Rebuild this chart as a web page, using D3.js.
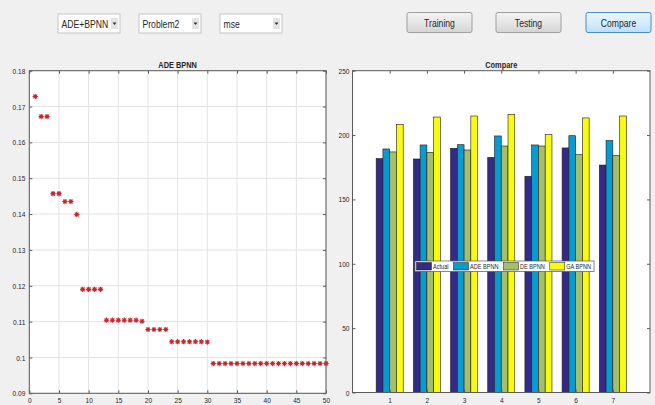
<!DOCTYPE html>
<html>
<head>
<meta charset="utf-8">
<script src="https://cdn.jsdelivr.net/npm/d3@7"></script>
<style>
  html, body { margin: 0; padding: 0; background: #f0f0f0; }
  svg { display: block; }
  text { font-family: "Liberation Sans", Arial, sans-serif; fill: #262626; }
</style>
</head>
<body>
<svg id="fig" width="655" height="405"></svg>
<script>
// ---- data ----
const iterations = d3.range(1, 51);
const bestFitness = [
  0.1728, 0.1672, 0.1672, 0.1457, 0.1457, 0.1435, 0.1435, 0.1399,
  0.1190, 0.1190, 0.1190, 0.1190,
  0.1104, 0.1104, 0.1104, 0.1104, 0.1104, 0.1104, 0.1101,
  0.1078, 0.1078, 0.1078, 0.1078,
  0.1044, 0.1044, 0.1044, 0.1044, 0.1044, 0.1044, 0.1043,
  0.0983, 0.0983, 0.0983, 0.0983, 0.0983, 0.0983, 0.0983, 0.0983, 0.0983, 0.0983,
  0.0983, 0.0983, 0.0983, 0.0983, 0.0983, 0.0983, 0.0983, 0.0983, 0.0983, 0.0983
];
const samples = [1, 2, 3, 4, 5, 6, 7];
const seriesNames = ["Actual", "ADE BPNN", "DE BPNN", "GA BPNN"];
const actual  = [181.7, 181.4, 189.7, 182.7, 168.0, 190.0, 176.7];
const adeBpnn = [189.2, 192.3, 192.5, 199.3, 192.3, 199.5, 195.7];
const deBpnn  = [186.9, 186.6, 188.4, 191.5, 191.5, 184.8, 184.0];
const gaBpnn  = [208.3, 214.0, 214.8, 216.1, 200.3, 213.3, 214.8];
const leftXTicks = d3.range(0, 51, 5);
const leftYTicks = [0.09, 0.10, 0.11, 0.12, 0.13, 0.14, 0.15, 0.16, 0.17, 0.18];
const rightYTicks = [0, 50, 100, 150, 200, 250];
const menuLabels = ["ADE+BPNN", "Problem2", "mse"];
const buttonLabels = ["Training", "Testing", "Compare"];

const seriesValues = [actual, adeBpnn, deBpnn, gaBpnn];
const seriesColors = ["#352a87", "#079ccf", "#a5be6b", "#f9fb0e"];

const svg = d3.select("#fig");
const AXIS = "#5a5a5a";
const NARROW = 0.82; // condensed UI lettering

// squeeze a label horizontally; returns its natural width
function condense(sel) {
  let last = 0;
  sel.each(function () {
    const w = this.getComputedTextLength();
    last = w;
    if (w > 0) d3.select(this).attr("textLength", w * NARROW).attr("lengthAdjust", "spacingAndGlyphs");
  });
  return last;
}

// ---- control bar ----
const menuX = [58, 139, 220];
const menus = svg.append("g").selectAll("g").data(menuLabels).join("g")
  .attr("transform", (d, i) => `translate(${menuX[i]},14)`);
menus.append("rect").attr("width", 62).attr("height", 19)
  .attr("fill", "#ffffff").attr("stroke", "#c4c4c4").attr("stroke-width", 1);
menus.append("rect").attr("x", 53).attr("y", 4).attr("width", 7).attr("height", 11)
  .attr("fill", "#e4e4e4");
menus.append("path").attr("d", "M54.5,8.5 L58.5,8.5 L56.5,11 Z").attr("fill", "#333");
menus.append("text").attr("x", 3.5).attr("y", 13.5).attr("font-size", 10.5)
  .text(d => d);

const btnX = [407, 496, 586];
const defs = svg.append("defs");
const g1 = defs.append("linearGradient").attr("id", "btn").attr("x1", 0).attr("x2", 0).attr("y1", 0).attr("y2", 1);
g1.append("stop").attr("offset", "0%").attr("stop-color", "#f3f3f3");
g1.append("stop").attr("offset", "50%").attr("stop-color", "#e6e6e6");
g1.append("stop").attr("offset", "100%").attr("stop-color", "#d3d3d3");
const g2 = defs.append("linearGradient").attr("id", "btnOn").attr("x1", 0).attr("x2", 0).attr("y1", 0).attr("y2", 1);
g2.append("stop").attr("offset", "0%").attr("stop-color", "#e8f5fd");
g2.append("stop").attr("offset", "50%").attr("stop-color", "#d6eefc");
g2.append("stop").attr("offset", "100%").attr("stop-color", "#b9e0f8");
const buttons = svg.append("g").selectAll("g").data(buttonLabels).join("g")
  .attr("transform", (d, i) => `translate(${btnX[i]},12.5)`);
buttons.append("rect").attr("width", 65).attr("height", 20).attr("rx", 2)
  .attr("fill", (d, i) => i === 2 ? "url(#btnOn)" : "url(#btn)")
  .attr("stroke", (d, i) => i === 2 ? "#4a8cc4" : "#a0a0a0");
buttons.append("text").attr("x", 32.5).attr("y", 14).attr("text-anchor", "middle")
  .attr("font-size", 10.5).text(d => d);

// ---- left axes: best fitness per iteration ----
const L = { x0: 29.3, x1: 326, y0: 393.3, y1: 70.7 };
const xL = d3.scaleLinear().domain([0, 50]).range([L.x0, L.x1]);
const yL = d3.scaleLinear().domain([0.09, 0.18]).range([L.y0, L.y1]);
const left = svg.append("g");
left.append("rect").attr("x", L.x0).attr("y", L.y1).attr("width", L.x1 - L.x0).attr("height", L.y0 - L.y1)
  .attr("fill", "#ffffff");
left.append("g").selectAll("line").data(leftXTicks).join("line")
  .attr("x1", d => xL(d)).attr("x2", d => xL(d)).attr("y1", L.y1).attr("y2", L.y0)
  .attr("stroke", "#e3e3e3").attr("stroke-width", 1);
left.append("g").selectAll("line").data(leftYTicks).join("line")
  .attr("y1", d => yL(d)).attr("y2", d => yL(d)).attr("x1", L.x0).attr("x2", L.x1)
  .attr("stroke", "#e3e3e3").attr("stroke-width", 1);

function styleAxis(g) {
  g.select(".domain").remove();
  g.selectAll(".tick line").attr("stroke", AXIS);
  g.selectAll(".tick text").attr("fill", "#3a3a3a").attr("font-size", 8)
    .attr("font-family", "'Liberation Sans', Arial, sans-serif");
}
const fmtL = v => String(+v.toFixed(2));
left.append("g").attr("transform", `translate(0,${L.y0})`)
  .call(d3.axisBottom(xL).tickValues(leftXTicks).tickSize(-3).tickPadding(4)).call(styleAxis);
left.append("g").attr("transform", `translate(0,${L.y1})`)
  .call(d3.axisTop(xL).tickValues(leftXTicks).tickSize(-3).tickFormat("")).call(styleAxis);
left.append("g").attr("transform", `translate(${L.x0},0)`)
  .call(d3.axisLeft(yL).tickValues(leftYTicks).tickSize(-3).tickPadding(4).tickFormat(fmtL)).call(styleAxis);
left.append("g").attr("transform", `translate(${L.x1},0)`)
  .call(d3.axisRight(yL).tickValues(leftYTicks).tickSize(-3).tickFormat("")).call(styleAxis);
left.append("rect").attr("x", L.x0).attr("y", L.y1).attr("width", L.x1 - L.x0).attr("height", L.y0 - L.y1)
  .attr("fill", "none").attr("stroke", AXIS).attr("stroke-width", 1);

// asterisk markers
const star = "M-2.6,0H2.6M0,-2.6V2.6M-1.9,-1.9L1.9,1.9M-1.9,1.9L1.9,-1.9";
left.append("g").selectAll("path").data(iterations).join("path")
  .attr("transform", (d, i) => `translate(${xL(d)},${yL(bestFitness[i])})`)
  .attr("d", star).attr("fill", "none").attr("stroke", "#c8262e").attr("stroke-width", 1.1);

left.append("text").attr("x", (L.x0 + L.x1) / 2).attr("y", 67.5).attr("text-anchor", "middle")
  .attr("font-size", 9).attr("font-weight", "bold").attr("fill", "#1a1a1a").text("ADE BPNN");

// ---- right axes: grouped comparison bars ----
const R = { x0: 352.5, x1: 650, y0: 392.5, y1: 70.7 };
const xR = d3.scaleLinear().domain([0, 8]).range([R.x0, R.x1]);
const yR = d3.scaleLinear().domain([0, 250]).range([R.y0, R.y1]);
const right = svg.append("g");
right.append("rect").attr("x", R.x0).attr("y", R.y1).attr("width", R.x1 - R.x0).attr("height", R.y0 - R.y1)
  .attr("fill", "#ffffff");

const groupWidth = Math.min(0.8, seriesNames.length / (seriesNames.length + 1.5));
const barW = groupWidth / seriesNames.length;
const bars = [];
samples.forEach((s, i) => seriesValues.forEach((vals, j) => bars.push({ s, j, v: vals[i] })));
right.append("g").selectAll("rect").data(bars).join("rect")
  .attr("x", d => xR(d.s - groupWidth / 2 + d.j * barW))
  .attr("width", d => xR(barW) - xR(0))
  .attr("y", d => yR(d.v))
  .attr("height", d => yR(0) - yR(d.v))
  .attr("fill", d => seriesColors[d.j])
  .attr("stroke", "#1a1a1a").attr("stroke-width", 0.6);

right.append("g").attr("transform", `translate(0,${R.y0})`)
  .call(d3.axisBottom(xR).tickValues(samples).tickSize(-3).tickPadding(5)).call(styleAxis);
right.append("g").attr("transform", `translate(0,${R.y1})`)
  .call(d3.axisTop(xR).tickValues(samples).tickSize(-3).tickFormat("")).call(styleAxis);
right.append("g").attr("transform", `translate(${R.x0},0)`)
  .call(d3.axisLeft(yR).tickValues(rightYTicks).tickSize(-3).tickPadding(3)).call(styleAxis);
right.append("g").attr("transform", `translate(${R.x1},0)`)
  .call(d3.axisRight(yR).tickValues(rightYTicks).tickSize(-3).tickFormat("")).call(styleAxis);
right.append("rect").attr("x", R.x0).attr("y", R.y1).attr("width", R.x1 - R.x0).attr("height", R.y0 - R.y1)
  .attr("fill", "none").attr("stroke", AXIS).attr("stroke-width", 1);

right.append("text").attr("x", (R.x0 + R.x1) / 2).attr("y", 67.5).attr("text-anchor", "middle")
  .attr("font-size", 9).attr("font-weight", "bold").attr("fill", "#1a1a1a").text("Compare");

condense(svg.selectAll("text"));

// legend
const legend = right.append("g").attr("transform", "translate(415,261)");
const legBox = legend.append("rect").attr("height", 10.5).attr("fill", "#ffffff")
  .attr("stroke", "#555").attr("stroke-width", 0.7);
let cx = 1.5;
seriesNames.forEach((name, j) => {
  legend.append("rect").attr("x", cx).attr("y", 1.5).attr("width", 15).attr("height", 7.5)
    .attr("fill", seriesColors[j]).attr("stroke", "#1a1a1a").attr("stroke-width", 0.5);
  const t = legend.append("text").attr("x", cx + 16.5).attr("y", 7.8).attr("font-size", 6.8)
    .attr("fill", "#1a1a1a").text(name);
  const w = condense(t) * NARROW;
  cx += 16.5 + w + 5;
});
legBox.attr("width", cx - 2);
</script>
</body>
</html>
